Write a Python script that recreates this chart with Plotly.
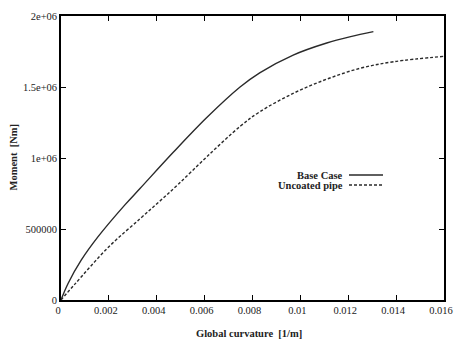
import plotly.graph_objects as go

# Moment-curvature response of the pipe section
base_curv = [0, 0.0003, 0.00085, 0.00155, 0.00266, 0.0033, 0.00469, 0.00609,
             0.00748, 0.0083, 0.0097, 0.0111, 0.0121, 0.01305]
base_moment = [0, 118e3, 282e3, 446e3, 668e3, 785e3, 1.04e6, 1.285e6,
               1.5e6, 1.6e6, 1.725e6, 1.81e6, 1.855e6, 1.89e6]

unc_curv = [0, 0.00057, 0.002, 0.0033, 0.0041, 0.0049, 0.0061, 0.0075,
            0.0083, 0.0097, 0.0111, 0.0125, 0.0139, 0.016]
unc_moment = [0, 110e3, 375e3, 572e3, 692e3, 815e3, 1.01e6, 1.225e6,
              1.325e6, 1.455e6, 1.555e6, 1.632e6, 1.678e6, 1.716e6]

x_ticks = [0, 0.002, 0.004, 0.006, 0.008, 0.01, 0.012, 0.014, 0.016]
x_labels = ["0", "0.002", "0.004", "0.006", "0.008", "0.01", "0.012", "0.014", "0.016"]
y_ticks = [0, 500000, 1000000, 1500000, 2000000]
y_labels = ["0", "500000", "1e+06", "1.5e+06", "2e+06"]

series_names = ["Base Case", "Uncoated pipe"]
x_title = "Global curvature  [1/m]"
y_title = "Moment  [Nm]"

FONT = "Liberation Serif, Times New Roman, serif"
INK = "#2a2a2a"
TXT = "#222"
DASH = "3px,2px"

W, H = 455, 341
ML, MR, MT, MB = 61, 11, 16, 41
PW, PH = W - ML - MR, H - MT - MB


def px_to_paper(xp, yp):
    return (xp - ML) / PW, 1 - (yp - MT) / PH


fig = go.Figure()
fig.add_trace(go.Scatter(x=base_curv, y=base_moment, mode="lines",
                         line=dict(color=INK, width=1.4, shape="spline", smoothing=1.0),
                         name=series_names[0], showlegend=False))
fig.add_trace(go.Scatter(x=unc_curv, y=unc_moment, mode="lines",
                         line=dict(color=INK, width=1.4, dash=DASH, shape="spline", smoothing=1.0),
                         name=series_names[1], showlegend=False))

axis_common = dict(
    showgrid=False, zeroline=False, showline=True, linecolor="black", linewidth=1.6,
    mirror="ticks", ticks="inside", ticklen=5, tickwidth=1.2, tickcolor="black",
    tickfont=dict(family=FONT, size=10.5, color=TXT), automargin=False,
    ticklabeloverflow="allow",
)

fig.update_layout(
    width=W, height=H,
    margin=dict(l=ML, r=MR, t=MT, b=MB),
    paper_bgcolor="white", plot_bgcolor="white",
    xaxis=dict(range=[0, 0.016], tickvals=x_ticks, ticktext=x_labels,
               ticklabelshift=-3, **axis_common),
    yaxis=dict(range=[0, 2e6], tickvals=y_ticks, ticktext=y_labels, **axis_common),
)

# Axis titles
tx, ty = px_to_paper(249, 333)
fig.add_annotation(xref="paper", yref="paper", x=tx, y=ty, text="<b>" + x_title + "</b>",
                   showarrow=False, xanchor="center", yanchor="middle",
                   font=dict(family=FONT, size=10.5, color=TXT))
tx, ty = px_to_paper(12.5, 158)
fig.add_annotation(xref="paper", yref="paper", x=tx, y=ty, text="<b>" + y_title + "</b>",
                   showarrow=False, xanchor="center", yanchor="middle", textangle=-90,
                   font=dict(family=FONT, size=10.5, color=TXT))

# Key in gnuplot style: label on the left, line sample on the right
legend_rows = [(series_names[0], "solid", 175), (series_names[1], DASH, 185)]
for label, dash, ypix in legend_rows:
    lx, ly = px_to_paper(345, ypix)
    fig.add_annotation(xref="paper", yref="paper", x=lx, y=ly,
                       text="<b>" + label + "</b>", showarrow=False, xanchor="right",
                       yanchor="middle", font=dict(family=FONT, size=10.5, color=TXT))
    x0, _ = px_to_paper(349, ypix)
    x1, _ = px_to_paper(383, ypix)
    fig.add_shape(type="line", xref="paper", yref="paper", x0=x0, x1=x1, y0=ly, y1=ly,
                  line=dict(color=INK, width=1.4, dash=dash))

fig.write_html("out.html")
